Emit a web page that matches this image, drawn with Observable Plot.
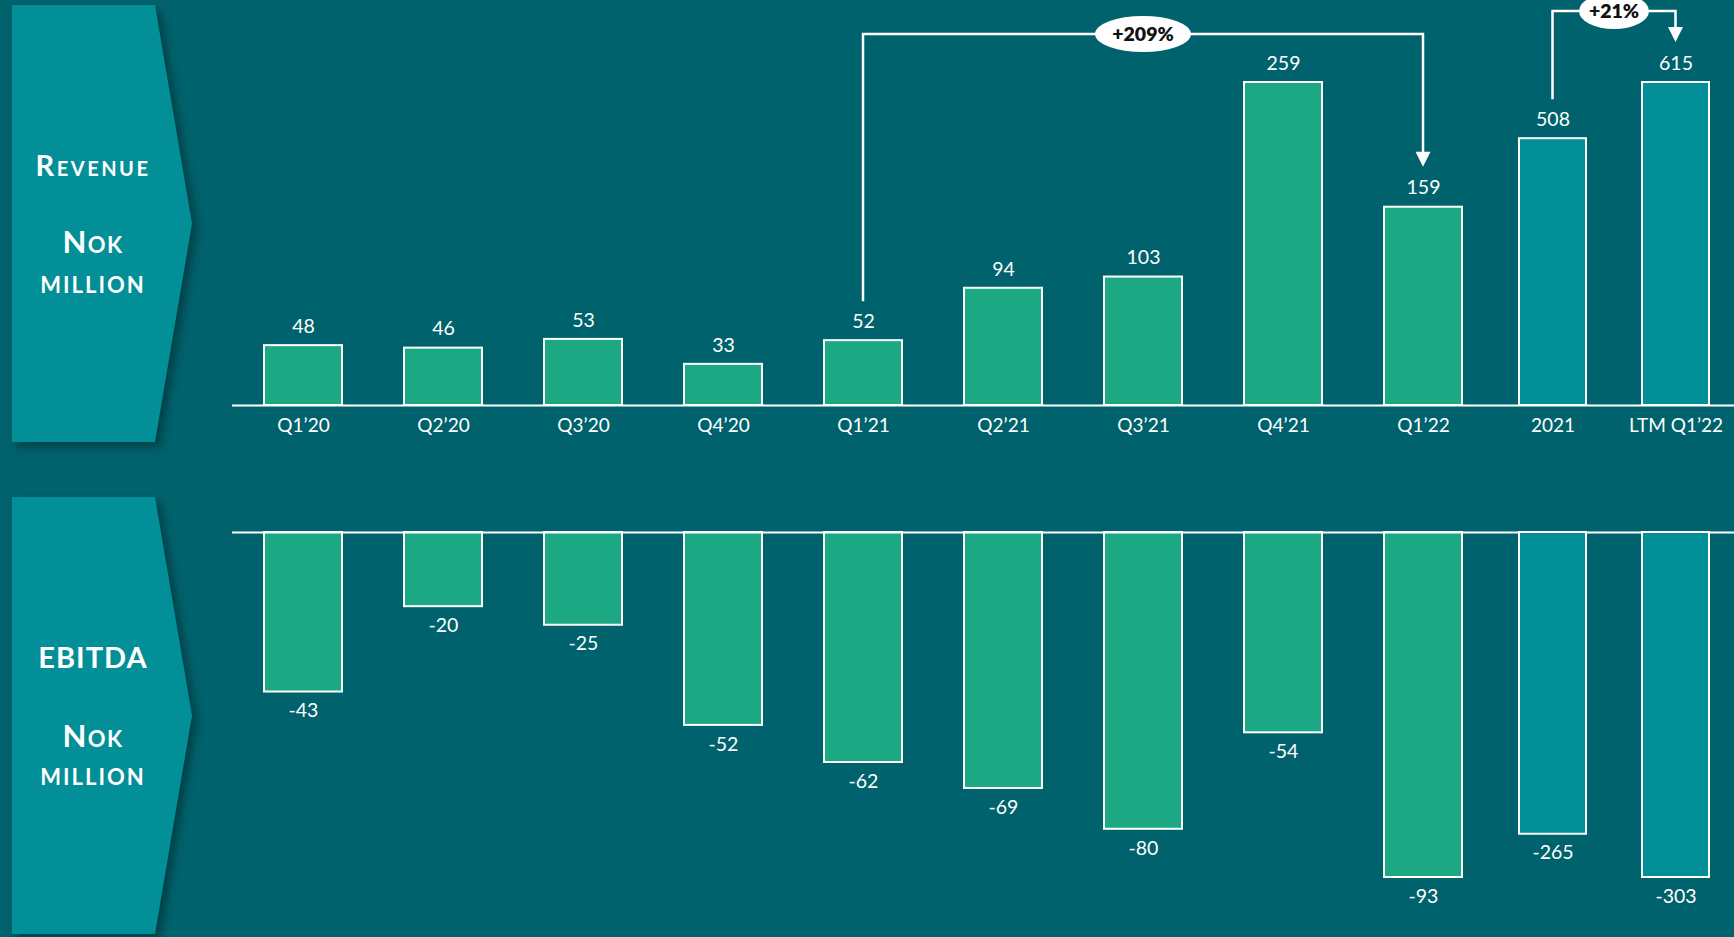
<!DOCTYPE html>
<html>
<head>
<meta charset="utf-8">
<script src="https://cdn.jsdelivr.net/npm/d3@7"></script>
<script src="https://cdn.jsdelivr.net/npm/@observablehq/plot@0.6"></script>
<style>
  html, body { margin: 0; padding: 0; background: #00626c; }
  #stage { position: relative; width: 1734px; height: 937px; overflow: hidden; background: #00626c; font-family: Lato, "Noto Sans", sans-serif; }
  #stage > svg, #stage > div { position: absolute; left: 0; top: 0; }
  .panel { filter: drop-shadow(5px 5px 4px rgba(0,0,0,0.35)); }
</style>
</head>
<body>
<div id="stage"></div>
<script>
// ---- data ----
const quarters = ["Q1’20","Q2’20","Q3’20","Q4’20","Q1’21","Q2’21","Q3’21","Q4’21","Q1’22"];
const revenueQ = [48, 46, 53, 33, 52, 94, 103, 259, 159];
const ebitdaQ  = [-43, -20, -25, -52, -62, -69, -80, -54, -93];
const periods  = ["2021", "LTM Q1’22"];
const revenueA = [508, 615];
const ebitdaA  = [-265, -303];
const growth = [
  {from: "Q1’21", to: "Q1’22", label: "+209%", group: "q"},
  {from: "2021", to: "LTM Q1’22", label: "+21%", group: "a"}
];

const W = 1734, H = 937;
const GREEN = "#1ba882", TEAL = "#038f98", BG = "#00626c";
const stage = document.getElementById("stage");

// ---- side panels ----
const bg = d3.create("svg").attr("width", W).attr("height", H);
function panel(y0, y1, lines) {
  const g = bg.append("g").attr("class", "panel");
  const mid = (y0 + y1) / 2;
  g.append("polygon")
    .attr("points", `12,${y0} 155,${y0} 192,${mid} 155,${y1} 12,${y1}`)
    .attr("fill", TEAL);
  for (const l of lines) {
    bg.append("text").attr("x", 93).attr("y", l.y)
      .attr("text-anchor", "middle").attr("dominant-baseline", "middle")
      .attr("fill", "white").attr("font-family", "Lato, sans-serif").attr("font-weight", 700)
      .attr("font-size", l.size).attr("letter-spacing", l.ls || 0)
      .style("font-variant", l.variant || "normal")
      .text(l.text);
  }
}
panel(5, 442, [
  {text: "Revenue", y: 169, size: 29, variant: "small-caps", ls: 2.5},
  {text: "Nok", y: 245, size: 31, variant: "small-caps", ls: 1.5},
  {text: "million", y: 285, size: 32, variant: "small-caps", ls: 2}
]);
panel(497, 934, [
  {text: "EBITDA", y: 661, size: 29, ls: 1},
  {text: "Nok", y: 739, size: 31, variant: "small-caps", ls: 1.5},
  {text: "million", y: 777, size: 32, variant: "small-caps", ls: 2}
]);
stage.appendChild(bg.node());

// ---- plots ----
const qRows = quarters.map((c, i) => ({c, rev: revenueQ[i], eb: ebitdaQ[i]}));
const aRows = periods.map((c, i) => ({c, rev: revenueA[i], eb: ebitdaA[i]}));

const common = {
  width: W, height: H, marginLeft: 232, marginRight: 0, marginTop: 0,
  style: {background: "transparent", color: "white", fontFamily: "Lato, sans-serif", fontSize: "19px", overflow: "visible"}
};
const xQ = {domain: quarters, range: [233, 1493], paddingInner: 0.443, paddingOuter: 0.2215};
const xA = {domain: periods, range: [1492, 1735], paddingInner: 0.459, paddingOuter: 0.217};

function revenuePlot(rows, x, ymax, color, withRule) {
  return Plot.plot({
    ...common, marginBottom: H - 405,
    x, y: {domain: [0, ymax], range: [405, 82], axis: null},
    marks: [
      Plot.barY(rows, {x: "c", y: "rev", fill: color, stroke: "white", strokeWidth: 2}),
      Plot.text(rows, {x: "c", y: "rev", text: d => String(d.rev), dy: -19, fill: "white", fontSize: 19.5}),
      withRule ? Plot.ruleY([0], {stroke: "white", strokeWidth: 2}) : null,
      Plot.axisX({tickSize: 0, tickPadding: 13, label: null, fontSize: 19})
    ]
  });
}
function ebitdaPlot(rows, x, ymin, color, withRule) {
  return Plot.plot({
    ...common, marginBottom: 0,
    x: {...x, axis: null}, y: {domain: [ymin, 0], range: [877, 532], axis: null},
    marks: [
      Plot.barY(rows, {x: "c", y1: 0, y2: "eb", fill: color, stroke: "white", strokeWidth: 2}),
      withRule ? Plot.ruleY([0], {stroke: "white", strokeWidth: 2}) : null,
      Plot.text(rows, {x: "c", y: "eb", text: d => String(d.eb), dy: 19, fill: "white", fontSize: 19.5})
    ]
  });
}

const topQ = revenuePlot(qRows, xQ, d3.max(revenueQ), GREEN, true);
const topA = revenuePlot(aRows, xA, d3.max(revenueA), TEAL, false);
const botQ = ebitdaPlot(qRows, xQ, d3.min(ebitdaQ), GREEN, true);
const botA = ebitdaPlot(aRows, xA, d3.min(ebitdaA), TEAL, false);

// ---- growth brackets, positioned with the plots' own scales ----
function bracket(plot, rows, g, levelY, rx) {
  const xs = plot.scale("x"), ys = plot.scale("y");
  const cx = c => xs.apply(c) + xs.bandwidth / 2;
  const val = c => rows.find(r => r.c === c).rev;
  const x1 = cx(g.from), x2 = cx(g.to);
  const yStart = ys.apply(val(g.from)) - 39;
  const yTip = ys.apply(val(g.to)) - 40;
  const s = d3.select(plot);
  const a = s.append("g");
  a.append("path")
    .attr("d", `M${x1},${yStart}V${levelY}H${x2}V${yTip - 14}`)
    .attr("fill", "none").attr("stroke", "white").attr("stroke-width", 2.5);
  a.append("path")
    .attr("d", `M${x2 - 7.5},${yTip - 15}L${x2 + 7.5},${yTip - 15}L${x2},${yTip}Z`)
    .attr("fill", "white");
  const ex = (x1 + x2) / 2;
  a.append("ellipse").attr("cx", ex).attr("cy", levelY).attr("rx", rx).attr("ry", 18).attr("fill", "white");
  a.append("text").attr("x", ex).attr("y", levelY).attr("text-anchor", "middle")
    .attr("dy", "0.35em").attr("fill", "#111").attr("font-weight", 800).attr("font-size", 19.5)
    .attr("font-family", "Lato, sans-serif").text(g.label);
}
bracket(topQ, qRows, growth[0], 34, 48);
bracket(topA, aRows, growth[1], 11, 35);

for (const p of [botQ, botA, topQ, topA]) stage.appendChild(p);
</script>
</body>
</html>
